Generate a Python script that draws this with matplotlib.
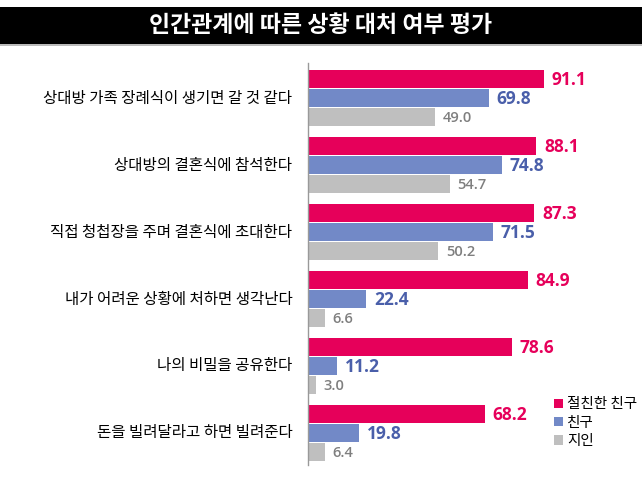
import numpy as np
import matplotlib
matplotlib.use('Agg')
import matplotlib.pyplot as plt
from matplotlib.patches import Rectangle

plt.rcParams['font.family'] = ['Noto Sans CJK KR', 'DejaVu Sans']

# 데이터
categories = ['상대방 가족 장례식이 생기면 갈 것 같다',
              '상대방의 결혼식에 참석한다',
              '직접 청첩장을 주며 결혼식에 초대한다',
              '내가 어려운 상황에 처하면 생각난다',
              '나의 비밀을 공유한다',
              '돈을 빌려달라고 하면 빌려준다']
close_friend = [91.1, 88.1, 87.3, 84.9, 78.6, 68.2]
friend = [69.8, 74.8, 71.5, 22.4, 11.2, 19.8]
acquaintance = [49.0, 54.7, 50.2, 6.6, 3.0, 6.4]
series_names = ['절친한 친구', '친구', '지인']

bar_colors = ['#E6005A', '#7289C7', '#BFBFBF']
text_colors = ['#E6005A', '#4A5FAA', '#7F7F7F']
text_sizes = [12.5, 12.5, 10.5]

fig = plt.figure(figsize=(6.42, 4.82), dpi=100)

# 제목 바
fig.patches.append(Rectangle((0, 1 - 44 / 482), 1, 37 / 482, transform=fig.transFigure,
                             facecolor='black', edgecolor='none'))
fig.patches.append(Rectangle((0, 1 - 46 / 482), 1, 2 / 482, transform=fig.transFigure,
                             facecolor='#BBBBBB', edgecolor='none'))
fig.text(0.5, 1 - 26 / 482, '인간관계에 따른 상황 대처 여부 평가', color='white',
         fontsize=16.5, fontweight='bold', ha='center', va='center')

ax = fig.add_axes([308 / 642, 17 / 482, 259 / 642, 402 / 482])

y = np.arange(len(categories))
step = 19 / 67
height = 18 / 67
all_series = [close_friend, friend, acquaintance]
for k, vals in enumerate(all_series):
    pos = y + (k - 1) * step
    ax.barh(pos, vals, height=height, color=bar_colors[k], label=series_names[k])
    for p, v in zip(pos, vals):
        ax.text(v + 3, p + 0.01, f'{v:.1f}', color=text_colors[k], fontsize=text_sizes[k],
                fontweight='bold' if k < 2 else 'semibold', va='center', ha='left',
                family=['Open Sans', 'DejaVu Sans'])

for i, c in enumerate(categories):
    ax.text(-6, i, c, ha='right', va='center', fontsize=11.2, fontweight='medium', color='black')

ax.set_xlim(0, 100)
ax.set_ylim(len(categories) - 1 + 0.478, -0.522)
ax.set_xticks([])
ax.set_yticks([])
for s in ['top', 'right', 'bottom']:
    ax.spines[s].set_visible(False)
ax.spines['left'].set_color('#999999')
ax.spines['left'].set_linewidth(1)
ax.patch.set_alpha(0)

leg = fig.legend(loc='lower left', bbox_to_anchor=(548 / 642, 28 / 482), frameon=False,
                 prop={'size': 10.5, 'weight': 'medium'}, handlelength=0.6, handleheight=0.6,
                 handletextpad=0.3, labelspacing=0.3, borderaxespad=0)

fig.savefig('out.png', dpi=100)
